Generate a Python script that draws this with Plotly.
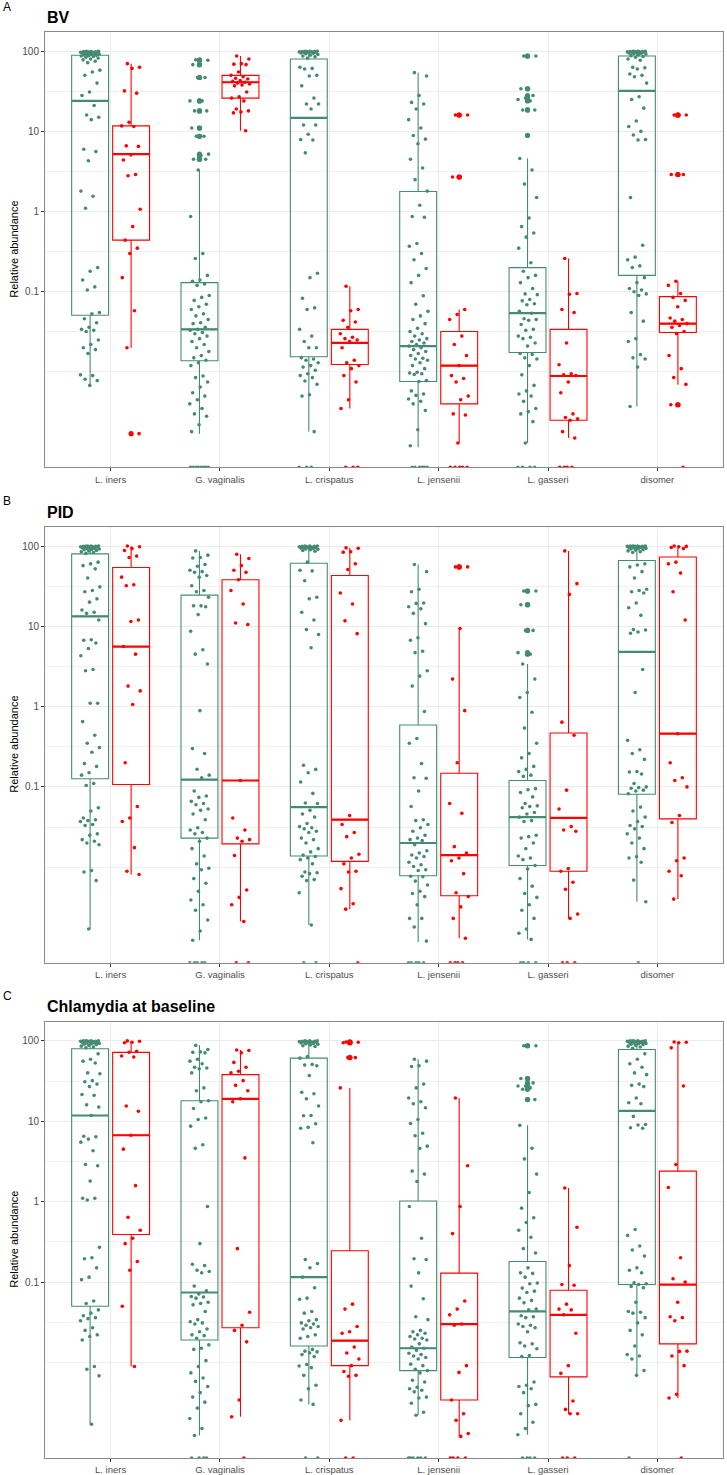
import plotly.graph_objects as go

# ---------------- categories / labels ----------------
categories = ["L. iners", "G. vaginalis", "L. crispatus", "L. jensenii", "L. gasseri", "disomer"]
panel_titles = ["BV", "PID", "Chlamydia at baseline"]
panel_letters = ["A", "B", "C"]
y_tick_values = [0.1, 1, 10, 100]
y_tick_labels = ["0.1", "1", "10", "100"]
y_minor_grid = [0.01, 0.0316, 0.316, 3.16, 31.6]

# ---------------- Panel A : BV (relative abundance, 0 = not detected) ----------------
bv_iners_g = [100,100,99,99,98,98,97,97,96,96,95,95,94,93,92,91,90,89,88,87,86,84,82,80,78,75,72,58,55,50,40,31,28,21,16,15,14,6.0,5.6,4.3,1.8,1.55,1.1,0.20,0.18,0.14,0.115,0.105,0.055,0.053,0.046,0.041,0.036,0.034,0.033,0.032,0.025,0.022,0.020,0.019,0.017,0.0092,0.0090,0.0081,0.0078,0.0068]
bv_iners_r = [70,63,61,32,30,13,11.7,11.5,6.6,6.5,5.1,4.4,2.9,2.8,1.07,0.65,0.44,0.35,0.30,0.15,0.058,0.020,0.0017]
bv_gvag_g = [78,77,68,68,47,47,24,24,18,18,11,11,8.7,8.7,5.2,5.0,4.5,4.5,3.3,0.87,0.30,0.26,0.16,0.14,0.135,0.125,0.12,0.090,0.085,0.078,0.070,0.065,0.060,0.053,0.050,0.045,0.041,0.040,0.036,0.034,0.033,0.031,0.030,0.028,0.026,0.024,0.022,0.020,0.018,0.016,0.015,0.014,0.013,0.012,0.0089,0.0085,0.0075,0.0065,0.0055,0.0050,0.0045,0.0040,0.0035,0.0030,0.0028,0.0022,0.0018,0,0,0,0,0,0,0,0]
bv_gvag_r = [87,80,70,69,68,55,50,48,46,45,43,42,41,40,39,38,37,31,27,26,24,19,18,17.5,17,10.2]
bv_cris_g = [100,100,100,99,99,99,98,98,97,97,96,95,94,93,91,89,87,85,82,63,61,60,50,49,37,26,22,22,19,12,12,9.2,7.9,7.8,5.4,0.17,0.15,0.083,0.063,0.060,0.034,0.028,0.024,0.020,0.020,0.015,0.0145,0.014,0.013,0.012,0.0115,0.0105,0.0095,0.0090,0.0085,0.0077,0.0070,0.0052,0.0050,0.0018,0,0,0]
bv_cris_r = [0.117,0.060,0.058,0.044,0.042,0.036,0.030,0.027,0.026,0.025,0.024,0.020,0.014,0.013,0.012,0.011,0.0090,0.0075,0.0045,0.0035,0,0,0]
bv_jens_g = [54,49,28,23,22,19,14,11,8.9,8.0,7.0,4.5,3.5,2.5,1.8,1.2,0.87,0.85,0.40,0.37,0.30,0.25,0.195,0.16,0.13,0.089,0.070,0.057,0.050,0.045,0.040,0.035,0.032,0.030,0.028,0.026,0.025,0.024,0.023,0.022,0.021,0.020,0.019,0.018,0.017,0.016,0.0148,0.0145,0.014,0.013,0.012,0.011,0.0099,0.0097,0.0095,0.0093,0.0078,0.0076,0.0058,0.0053,0.0051,0.0046,0.0043,0.0040,0.0033,0.0019,0.0012,0,0,0,0,0,0]
bv_jens_r = [16,16,2.7,2.7,0.060,0.052,0.045,0.028,0.022,0.016,0.012,0.0090,0.0083,0.0075,0.0050,0.0045,0.0030,0.0029,0.0013,0,0,0,0,0]
bv_gass_g = [87,87,34,34,28,26,25,24,18.5,18.5,8.9,4.6,3.3,2.2,1.5,0.83,0.65,0.54,0.48,0.35,0.23,0.18,0.16,0.15,0.13,0.11,0.094,0.092,0.080,0.077,0.071,0.069,0.057,0.054,0.046,0.045,0.044,0.039,0.034,0.033,0.028,0.027,0.026,0.023,0.021,0.017,0.0165,0.015,0.0145,0.012,0.0092,0.0068,0.0058,0.0053,0.0050,0.0043,0.0035,0.0032,0.0030,0.0024,0.0013,0,0,0,0]
bv_gass_r = [0.26,0.095,0.093,0.060,0.055,0.023,0.0123,0.0095,0.0092,0.0090,0.0075,0.0055,0.0030,0.0027,0.0026,0.0025,0.0018,0.0015,0,0,0,0]
bv_diso_g = [100,100,100,99,99,99,98,98,97,97,96,95,94,93,92,90,88,86,84,80,77,63,62,60,52,50,48,40,27,25,19.5,13.5,11.5,10,9.0,7.9,7.8,1.5,0.38,0.27,0.25,0.21,0.20,0.15,0.13,0.11,0.105,0.10,0.094,0.090,0.055,0.043,0.026,0.024,0.0165,0.015,0.0145,0.0115,0.0037]
bv_diso_r = [16,16,16,2.9,2.9,0.135,0.12,0.095,0.085,0.078,0.065,0.047,0.045,0.043,0.040,0.038,0.036,0.032,0.030,0.016,0.011,0.0085,0.0070,0.0039,0.0039,0]

bv_g_q1 = [0.051, 0.0138, 0.0155, 0.0076, 0.0175, 0.16]
bv_g_med = [24, 0.034, 14.7, 0.021, 0.054, 32]
bv_g_q3 = [89, 0.13, 80, 1.78, 0.20, 87]
bv_g_lo = [0.0068, 0.0017, 0.0018, 0.00115, 0.0013, 0.0037]
bv_g_hi = [100, 3.3, 100, 54, 4.6, 100]
bv_r_q1 = [0.44, 26, 0.0124, 0.0040, 0.0025, 0.031]
bv_r_med = [5.2, 41, 0.023, 0.012, 0.0089, 0.040]
bv_r_q3 = [11.7, 50, 0.034, 0.032, 0.034, 0.087]
bv_r_lo = [0.020, 10.2, 0.0035, 0.0013, 0.0015, 0.0069]
bv_r_hi = [70, 87, 0.117, 0.060, 0.26, 0.135]

# ---------------- Panel B : PID ----------------
pid_iners_g = [100,100,100,99,99,99,98,98,97,97,96,95,94,93,92,91,90,88,87,85,83,81,63,60,57,52,40,31,28,27,22,20,16,15,14.5,12,6.8,6.7,6.2,5.3,4.3,2.9,2.8,1.1,1.1,0.65,0.44,0.35,0.31,0.27,0.195,0.18,0.15,0.14,0.11,0.104,0.055,0.050,0.041,0.039,0.038,0.037,0.034,0.033,0.026,0.025,0.022,0.021,0.020,0.019,0.0091,0.0087,0.0068,0.0017]
pid_iners_r = [100,98,93,88,75,72,41,33,32,12,11.5,5.6,4.5,1.8,1.57,1.06,0.20,0.057,0.041,0.037,0.0175,0.0089,0.0081]
pid_gvag_g = [87,77,72,71,59,56,50,48,47,43,41,32,28,27,23,18,18,17.5,14,8.7,5.1,4.5,3.4,0.89,0.30,0.26,0.166,0.14,0.13,0.089,0.077,0.074,0.066,0.062,0.060,0.053,0.051,0.046,0.039,0.031,0.029,0.027,0.026,0.023,0.021,0.017,0.0138,0.011,0.0097,0.0093,0.0072,0.0063,0.0050,0.0039,0.0034,0.0029,0.0022,0.0016,0.00123,0,0,0,0,0]
pid_gvag_r = [79,70,57,50,47,38,28,19,11,10.5,0.12,0.041,0.029,0.023,0.022,0.021,0.014,0.0052,0.0042,0.0034,0.0021,0,0]
pid_cris_g = [100,100,100,99,99,98,98,97,97,96,95,94,93,92,91,90,88,86,63,50,49,37,23,22,15,12,9.1,7.9,5.4,0.186,0.165,0.15,0.115,0.083,0.063,0.062,0.051,0.046,0.042,0.035,0.032,0.031,0.030,0.028,0.027,0.023,0.022,0.020,0.017,0.0155,0.0142,0.0136,0.013,0.0124,0.011,0.0087,0.0085,0.0083,0.0077,0.0070,0.0068,0.0048,0.0019,0,0]
pid_cris_r = [95,94,85,84,60,51,26,19,11.7,8.1,0.044,0.034,0.027,0.024,0.0145,0.013,0.011,0.0089,0.0087,0.0054,0.0035,0.0030,0]
pid_jens_g = [59,48,29,27,19.5,19.3,17.5,16.5,14.5,10.8,7.2,6.7,4.9,4.7,2.8,2.4,1.8,0.87,0.40,0.35,0.195,0.13,0.128,0.089,0.057,0.039,0.038,0.034,0.031,0.028,0.025,0.023,0.022,0.0215,0.019,0.016,0.015,0.0142,0.0136,0.013,0.0115,0.0107,0.0102,0.0093,0.0091,0.0077,0.0076,0.0067,0.0060,0.0050,0.0047,0.0043,0.0034,0.0023,0.0023,0.0018,0.0012,0,0,0,0,0]
pid_jens_r = [55,55,9.4,2.2,0.89,0.20,0.062,0.047,0.018,0.015,0.013,0.012,0.0083,0.0048,0.0043,0.0032,0.0023,0.0013,0,0,0,0]
pid_gass_g = [27.5,27.5,18.6,18.6,8.9,8.9,4.7,4.5,3.4,2.2,1.5,1.3,0.85,0.54,0.35,0.26,0.23,0.18,0.165,0.155,0.14,0.135,0.095,0.092,0.085,0.075,0.062,0.058,0.057,0.055,0.048,0.046,0.042,0.038,0.037,0.025,0.024,0.023,0.020,0.017,0.0138,0.013,0.0124,0.0105,0.0095,0.0072,0.0058,0.0047,0.0042,0.0034,0.0029,0.0023,0.0017,0.0015,0.00126,0,0,0,0]
pid_gass_r = [87,34,25,0.64,0.44,0.091,0.053,0.032,0.029,0.028,0.0096,0.0089,0.0065,0.0053,0.0026,0.0023,0,0,0]
pid_diso_g = [100,100,100,100,99,99,99,98,98,97,97,96,96,95,94,93,92,90,89,87,85,83,60,58,55,48,40,29,28,27,26,19.5,17,13.7,9.1,9.0,8.5,8.2,2.9,1.5,0.38,0.29,0.26,0.22,0.155,0.153,0.145,0.11,0.10,0.098,0.096,0.091,0.089,0.082,0.056,0.050,0.042,0.037,0.033,0.032,0.030,0.026,0.023,0.020,0.017,0.0135,0.013,0.0115,0.0069,0.0037,0]
pid_diso_r = [100,99,98,96,93,63,60,46,27,12,0.46,0.20,0.13,0.12,0.10,0.044,0.036,0.013,0.012,0.0089,0.0078,0.0040]

pid_g_q1 = [0.126, 0.023, 0.0138, 0.0078, 0.0105, 0.081]
pid_g_med = [13.3, 0.123, 0.056, 0.020, 0.042, 4.8]
pid_g_q3 = [80, 24.5, 61, 0.59, 0.12, 66]
pid_g_lo = [0.0017, 0.00123, 0.0019, 0.00117, 0.00126, 0.0037]
pid_g_hi = [100, 87, 100, 59, 3.4, 100]
pid_r_q1 = [0.107, 0.0195, 0.0118, 0.0044, 0.0089, 0.040]
pid_r_med = [5.6, 0.12, 0.039, 0.0141, 0.041, 0.46]
pid_r_q3 = [54, 38, 43, 0.148, 0.47, 73]
pid_r_lo = [0.0081, 0.0021, 0.0030, 0.0013, 0.0023, 0.0040]
pid_r_hi = [100, 79, 95, 9.4, 87, 100]

# ---------------- Panel C : Chlamydia at baseline ----------------
chl_iners_g = [100,100,100,100,99,99,99,98,98,97,97,96,95,94,93,92,91,90,88,86,84,82,69,59,56,53,40,39,32,31,29,27,21.5,21,16,15,11.8,6.5,6.4,6.0,5.5,4.3,2.9,2.8,1.8,1.1,1.1,1.05,0.27,0.20,0.195,0.15,0.115,0.107,0.058,0.054,0.045,0.041,0.038,0.036,0.035,0.033,0.027,0.025,0.022,0.021,0.019,0.0089,0.0082,0.0068,0.0017]
chl_iners_r = [100,99,96,95,74,72,65,63,15.5,13.3,6.7,4.5,1.58,0.64,0.44,0.35,0.30,0.18,0.14,0.050,0.0089]
chl_gvag_g = [88,78,73,72,71,59,56,52,47,46,45,40,26,24,18,17.5,14.4,11,10.5,8.7,5.1,4.6,0.87,0.30,0.166,0.16,0.14,0.135,0.13,0.089,0.078,0.071,0.066,0.065,0.063,0.056,0.054,0.052,0.043,0.034,0.032,0.031,0.030,0.026,0.024,0.022,0.0215,0.020,0.0165,0.015,0.0145,0.0105,0.0089,0.0074,0.0064,0.0058,0.0050,0.0042,0.0037,0.0032,0.0027,0.0020,0.0015,0.00123,0,0,0,0]
chl_gvag_r = [77,76,71,54,47,42,40,32,28,24,19,17.5,3.5,0.26,0.042,0.029,0.025,0.018,0.0034,0.0021,0]
chl_cris_g = [100,100,100,99,99,98,98,97,97,96,95,94,93,92,91,89,87,85,64,61,51,50,49,37,23,22,19,15.5,11.8,11.7,9.3,8.4,8.2,5.4,0.19,0.17,0.15,0.115,0.085,0.063,0.061,0.043,0.041,0.034,0.033,0.031,0.030,0.029,0.028,0.027,0.026,0.022,0.021,0.020,0.0145,0.0138,0.0135,0.0132,0.0125,0.0118,0.0094,0.0090,0.0086,0.0069,0.0052,0.0047,0.0034,0.0030,0,0]
chl_cris_r = [97,96,95,95,62,62,26,0.053,0.046,0.028,0.024,0.023,0.0155,0.0131,0.011,0.0091,0.0077,0.0069,0.0067,0.0019,0,0]
chl_jens_g = [59,56,49,48,29,26,19.5,17.5,16.5,14.7,10.5,9.4,7.1,6.6,4.9,4.6,2.4,2.2,1.78,0.87,0.35,0.195,0.19,0.13,0.089,0.062,0.037,0.034,0.025,0.024,0.023,0.022,0.021,0.020,0.0195,0.019,0.017,0.0155,0.015,0.0142,0.013,0.0125,0.012,0.0115,0.011,0.0095,0.0091,0.0082,0.0079,0.0074,0.0060,0.0057,0.0049,0.0047,0.0045,0.0043,0.0037,0.0036,0.0031,0.0024,0.0022,0,0,0,0,0,0]
chl_jens_r = [19.5,2.8,0.87,0.40,0.058,0.046,0.039,0.030,0.029,0.0091,0.0075,0.0034,0.0023,0.0019,0.0013,0.0012,0,0,0,0]
chl_gass_g = [87,87,34,34,30,27.5,27.5,26,25,18.6,18.6,8.9,4.6,3.4,2.2,1.3,0.83,0.63,0.55,0.44,0.36,0.26,0.23,0.15,0.13,0.128,0.115,0.097,0.095,0.084,0.077,0.074,0.063,0.059,0.055,0.046,0.045,0.038,0.037,0.036,0.030,0.029,0.028,0.027,0.024,0.0175,0.017,0.016,0.0148,0.0122,0.0118,0.0057,0.0052,0.0050,0.0047,0.0042,0.0030,0.0029,0.0023,0.0018,0.0015,0.00126,0,0,0,0]
chl_gass_r = [1.48,0.48,0.16,0.093,0.091,0.053,0.046,0.045,0.039,0.023,0.0091,0.0073,0.0033,0.0026,0.0023,0.0023,0,0,0]
chl_diso_g = [100,100,100,100,99,99,99,98,98,97,97,96,95,94,93,92,91,90,88,86,84,81,69,59,52,47,40,38,29,28,27,19.5,17,16.5,11.5,9.1,9.0,8.3,8.2,0.45,0.38,0.28,0.25,0.21,0.15,0.14,0.13,0.098,0.095,0.093,0.088,0.085,0.056,0.043,0.042,0.041,0.036,0.031,0.025,0.022,0.016,0.0125,0.012,0.011,0.0079,0.0069,0]
chl_diso_r = [97,96,95,82,27.5,2.9,1.5,0.20,0.11,0.10,0.056,0.037,0.036,0.033,0.0138,0.0137,0.012,0.0091,0.0040,0.0036,0]

chl_g_q1 = [0.050, 0.019, 0.016, 0.0079, 0.0115, 0.093]
chl_g_med = [11.8, 0.074, 0.115, 0.015, 0.043, 13.5]
chl_g_q3 = [80, 18, 61, 1.02, 0.18, 78]
chl_g_lo = [0.0017, 0.00123, 0.0030, 0.0022, 0.00126, 0.0069]
chl_g_hi = [100, 88, 100, 59, 8.9, 100]
chl_r_q1 = [0.39, 0.027, 0.0091, 0.0034, 0.0066, 0.017]
chl_r_med = [6.7, 19, 0.0186, 0.030, 0.039, 0.093]
chl_r_q3 = [72, 38, 0.245, 0.129, 0.079, 2.4]
chl_r_lo = [0.0089, 0.0021, 0.0019, 0.00118, 0.0023, 0.0036]
chl_r_hi = [100, 77, 26, 19.5, 1.48, 97]

# ---------------- assembly ----------------
points = [
    [[bv_iners_g, bv_gvag_g, bv_cris_g, bv_jens_g, bv_gass_g, bv_diso_g],
     [bv_iners_r, bv_gvag_r, bv_cris_r, bv_jens_r, bv_gass_r, bv_diso_r]],
    [[pid_iners_g, pid_gvag_g, pid_cris_g, pid_jens_g, pid_gass_g, pid_diso_g],
     [pid_iners_r, pid_gvag_r, pid_cris_r, pid_jens_r, pid_gass_r, pid_diso_r]],
    [[chl_iners_g, chl_gvag_g, chl_cris_g, chl_jens_g, chl_gass_g, chl_diso_g],
     [chl_iners_r, chl_gvag_r, chl_cris_r, chl_jens_r, chl_gass_r, chl_diso_r]],
]
stats = [
    [(bv_g_q1, bv_g_med, bv_g_q3, bv_g_lo, bv_g_hi), (bv_r_q1, bv_r_med, bv_r_q3, bv_r_lo, bv_r_hi)],
    [(pid_g_q1, pid_g_med, pid_g_q3, pid_g_lo, pid_g_hi), (pid_r_q1, pid_r_med, pid_r_q3, pid_r_lo, pid_r_hi)],
    [(chl_g_q1, chl_g_med, chl_g_q3, chl_g_lo, chl_g_hi), (chl_r_q1, chl_r_med, chl_r_q3, chl_r_lo, chl_r_hi)],
]

GREEN = "#458B74"
RED = "#FF0000"
FONT = "Liberation Sans, Arial, sans-serif"
GRID = "#EBEBEB"
BORDER = "#8A8A8A"

W, H = 727, 1475
L_M, R_M = 45, 4
PLOT_W = W - L_M - R_M
panel_px = [(32, 468), (527.5, 964), (1023, 1460)]
letter_px = [7, 502, 997]
title_px = [18, 513, 1008]
Y_RANGE = [-3.19, 2.24]
X_RANGE = [0.4, 6.6]
DODGE = 0.1875
BOX_W = 0.3375
JIT = 0.09
FLOOR = 10 ** Y_RANGE[0]

fig = go.Figure()
layout = {}
annotations = []

for pi in range(3):
    xa = "x" if pi == 0 else f"x{pi+1}"
    ya = "y" if pi == 0 else f"y{pi+1}"
    for gi, (color, sign) in enumerate([(GREEN, -1), (RED, 1)]):
        pos = [c + sign * DODGE for c in range(1, 7)]
        q1, med, q3, lo, hi = stats[pi][gi]
        fig.add_trace(go.Box(
            x=pos, q1=q1, median=med, q3=q3, lowerfence=lo, upperfence=hi,
            orientation="v", width=BOX_W, whiskerwidth=0, boxpoints=False,
            line=dict(color=color, width=1.1), fillcolor="rgba(0,0,0,0)",
            xaxis=xa, yaxis=ya, hoverinfo="skip", showlegend=False))
        # thicker median bar (ggplot fatten)
        mx, my = [], []
        for ci in range(6):
            mx += [pos[ci] - BOX_W / 2, pos[ci] + BOX_W / 2, None]
            my += [med[ci], med[ci], None]
        fig.add_trace(go.Scatter(x=mx, y=my, mode="lines", line=dict(color=color, width=2.2),
                                 xaxis=xa, yaxis=ya, hoverinfo="skip", showlegend=False))
        jx, jy, ox, oy = [], [], [], []
        for ci, vals in enumerate(points[pi][gi]):
            for k, v in enumerate(vals):
                off = (((k + 0.5) * 0.618034) % 1.0 - 0.5) * 2 * JIT
                jx.append(pos[ci] + off)
                jy.append(v if v > 0 else FLOOR)
                if v > 0 and (v > hi[ci] * 1.001 or v < lo[ci] / 1.001):
                    ox.append(pos[ci])
                    oy.append(v)
        fig.add_trace(go.Scatter(x=ox, y=oy, mode="markers",
                                 marker=dict(color=color, size=5.2, line=dict(width=0)),
                                 xaxis=xa, yaxis=ya, hoverinfo="skip", showlegend=False))
        fig.add_trace(go.Scatter(x=jx, y=jy, mode="markers",
                                 marker=dict(color=color, size=3.6, line=dict(width=0)),
                                 xaxis=xa, yaxis=ya, hoverinfo="skip", showlegend=False))

    top, bot = panel_px[pi]
    dom = [1 - bot / H, 1 - top / H]
    xname = "xaxis" if pi == 0 else f"xaxis{pi+1}"
    yname = "yaxis" if pi == 0 else f"yaxis{pi+1}"
    layout[xname] = dict(
        domain=[0, 1], anchor=ya, range=X_RANGE, tickmode="array",
        tickvals=list(range(1, 7)), ticktext=categories,
        showgrid=True, gridcolor=GRID, gridwidth=1, zeroline=False,
        showline=True, mirror=True, linecolor=BORDER, linewidth=1,
        ticks="outside", ticklen=3, tickcolor="#333333", tickwidth=1,
        tickfont=dict(family=FONT, size=9.5, color="#4D4D4D"))
    layout[yname] = dict(
        domain=dom, anchor=xa, type="log", range=Y_RANGE, tickmode="array",
        tickvals=y_tick_values, ticktext=y_tick_labels,
        showgrid=True, gridcolor=GRID, gridwidth=1, zeroline=False,
        minor=dict(tickmode="array", tickvals=y_minor_grid, showgrid=True,
                   gridcolor="#F0F0F0", gridwidth=0.8, ticks=""),
        showline=True, mirror=True, linecolor=BORDER, linewidth=1,
        ticks="outside", ticklen=3, tickcolor="#333333", tickwidth=1,
        tickfont=dict(family=FONT, size=10, color="#4D4D4D"))

    annotations.append(dict(
        text="Relative abundance", textangle=-90, xref="paper", yref="paper",
        x=(14 - L_M) / PLOT_W, y=(dom[0] + dom[1]) / 2, xanchor="center", yanchor="middle",
        showarrow=False, font=dict(family=FONT, size=11, color="#000000")))
    annotations.append(dict(
        text=f"<b>{panel_titles[pi]}</b>", xref="paper", yref="paper",
        x=0, y=1 - title_px[pi] / H, xanchor="left", yanchor="middle",
        showarrow=False, font=dict(family=FONT, size=16, color="#000000")))
    annotations.append(dict(
        text=panel_letters[pi], xref="paper", yref="paper",
        x=(1 - L_M) / PLOT_W, y=1 - letter_px[pi] / H, xanchor="left", yanchor="middle",
        showarrow=False, font=dict(family=FONT, size=12, color="#000000")))

fig.update_layout(
    width=W, height=H, margin=dict(l=L_M, r=R_M, t=0, b=0),
    plot_bgcolor="white", paper_bgcolor="white", showlegend=False,
    annotations=annotations, **layout)

fig.write_html("out.html", config={"displayModeBar": False},
               post_script="document.body.style.margin='0px';document.body.style.padding='0px';")
